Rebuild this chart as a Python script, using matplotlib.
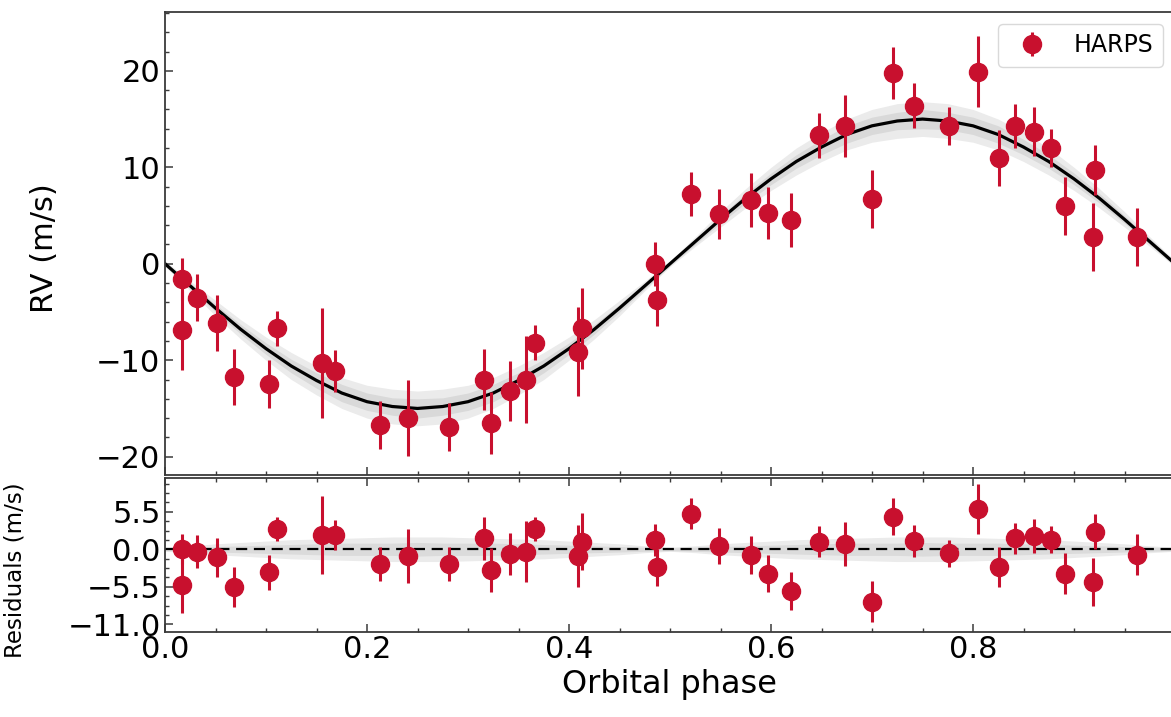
import numpy as np
import matplotlib.pyplot as plt
from matplotlib.ticker import AutoMinorLocator

# HARPS data, folded on the orbital phase
phase = [0.017, 0.017, 0.032, 0.051, 0.068, 0.103, 0.111, 0.155, 0.168, 0.213,
         0.241, 0.281, 0.316, 0.323, 0.342, 0.357, 0.366, 0.409, 0.413, 0.485,
         0.487, 0.521, 0.549, 0.580, 0.597, 0.620, 0.648, 0.673, 0.700, 0.721,
         0.742, 0.776, 0.805, 0.826, 0.842, 0.860, 0.877, 0.891, 0.921, 0.919,
         0.962]
rv = [-1.6, -6.9, -3.5, -6.1, -11.7, -12.5, -6.7, -10.3, -11.1, -16.7,
      -16.0, -16.9, -12.0, -16.5, -13.2, -12.0, -8.2, -9.1, -6.7, 0.0,
      -3.8, 7.2, 5.2, 6.6, 5.3, 4.5, 13.3, 14.3, 6.7, 19.8,
      16.4, 14.3, 19.9, 11.0, 14.3, 13.7, 12.0, 6.0, 9.7, 2.8,
      2.8]
rv_err = [2.2, 4.1, 2.4, 2.9, 2.9, 2.5, 1.8, 5.7, 2.2, 2.5,
          3.9, 2.5, 3.2, 3.2, 3.1, 4.5, 1.8, 4.6, 4.2, 2.3,
          2.7, 2.3, 2.6, 2.8, 2.7, 2.8, 2.3, 3.2, 3.0, 2.7,
          2.3, 2.0, 3.7, 2.9, 2.3, 2.5, 2.0, 3.0, 2.6, 3.5,
          3.0]
resid = [0.0, -5.3, -0.35, -1.2, -5.5, -3.4, 3.0, 2.1, 2.1, -2.15,
         -1.0, -2.2, 1.6, -3.0, -0.7, -0.35, 3.0, -1.0, 1.1, 1.35,
         -2.65, 5.2, 0.5, -0.8, -3.6, -6.1, 1.1, 0.8, -7.7, 4.8,
         1.2, -0.6, 5.9, -2.6, 1.6, 2.0, 1.4, -3.6, 2.6, -4.75,
         -0.8]

# best-fit model, every 0.025 in phase
model_phase = [i * 0.025 for i in range(41)]
model_rv = [0.0, -2.3, -4.6, -6.8, -8.8, -10.6, -12.1, -13.4, -14.3, -14.8,
            -15.0, -14.8, -14.3, -13.4, -12.1, -10.6, -8.8, -6.8, -4.6, -2.3,
            0.0, 2.3, 4.6, 6.8, 8.8, 10.6, 12.1, 13.4, 14.3, 14.8,
            15.0, 14.8, 14.3, 13.4, 12.1, 10.6, 8.8, 6.8, 4.6, 2.3, 0.0]
# half widths of the two grey bands
band_outer = [0.3, 0.5, 0.8, 1.0, 1.2, 1.4, 1.5, 1.6, 1.7, 1.8,
              1.8, 1.8, 1.7, 1.6, 1.5, 1.4, 1.2, 1.0, 0.8, 0.5,
              0.3, 0.5, 0.8, 1.0, 1.2, 1.4, 1.5, 1.6, 1.7, 1.8,
              1.8, 1.8, 1.7, 1.6, 1.5, 1.4, 1.2, 1.0, 0.8, 0.5, 0.3]
band_inner = [0.2, 0.3, 0.4, 0.5, 0.6, 0.7, 0.8, 0.9, 0.9, 0.9,
              1.0, 0.9, 0.9, 0.9, 0.8, 0.7, 0.6, 0.5, 0.4, 0.3,
              0.2, 0.3, 0.4, 0.5, 0.6, 0.7, 0.8, 0.9, 0.9, 0.9,
              1.0, 0.9, 0.9, 0.9, 0.8, 0.7, 0.6, 0.5, 0.4, 0.3, 0.2]

xticks = [0.0, 0.2, 0.4, 0.6, 0.8]
res_ticks = [-11.0, -5.5, 0.0, 5.5]

red = '#c8102e'
spine_col = '#3a3a3a'

mp = np.array(model_phase)
mr = np.array(model_rv)
bo = np.array(band_outer)
bi = np.array(band_inner)

fig = plt.figure(figsize=(11.71, 7.17), dpi=100)
W, H = 1171, 717
ax = fig.add_axes([165 / W, 1 - 475 / H, 1010 / W, 463 / H])
axr = fig.add_axes([165 / W, 1 - 632 / H, 1010 / W, 154 / H])

# main panel
ax.fill_between(mp, mr - bo, mr + bo, color='0.92', lw=0, zorder=1)
ax.fill_between(mp, mr - bi, mr + bi, color='0.85', lw=0, zorder=1)
ax.plot(mp, mr, color='black', lw=2.3, zorder=2)
ax.errorbar(phase, rv, yerr=rv_err, fmt='o', color=red, ms=13,
            elinewidth=2.2, capsize=0, zorder=3, label='HARPS')
ax.set_xlim(0, 1)
ax.set_ylim(-21.9, 26.1)
ax.set_yticks([-20, -10, 0, 10, 20])
ax.set_xticks(xticks)
ax.tick_params(labelbottom=False)
ax.set_ylabel('RV (m/s)', fontsize=22)
ax.yaxis.set_label_coords(-0.105, 0.49)
ax.legend(loc='upper right', fontsize=17, edgecolor='0.85', framealpha=1)

# residuals
axr.fill_between(mp, -bo, bo, color='0.92', lw=0, zorder=1)
axr.fill_between(mp, -bi, bi, color='0.86', lw=0, zorder=1)
axr.axhline(0, color='black', lw=1.6, ls=(0, (5, 3)), zorder=2)
axr.errorbar(phase, resid, yerr=rv_err, fmt='o', color=red, ms=13,
             elinewidth=2.2, capsize=0, zorder=3)
axr.set_xlim(0, 1)
axr.set_ylim(-12.13, 10.45)
axr.set_yticks(res_ticks)
axr.set_yticklabels(['\u221211.0', '\u22125.5', '0.0', '5.5'])
axr.set_xticks(xticks)
axr.set_xticklabels(['0.0', '0.2', '0.4', '0.6', '0.8'])
axr.set_xlabel('Orbital phase', fontsize=23)
axr.set_ylabel('Residuals (m/s)', fontsize=16.5)
axr.yaxis.set_label_coords(-0.137, 0.4)

for a, top in ((ax, False), (axr, True)):
    a.xaxis.set_minor_locator(AutoMinorLocator(4))
    a.tick_params(which='both', direction='in', top=top, right=False,
                  labelsize=22, color=spine_col)
    a.tick_params(which='major', length=6, width=1.1)
    a.tick_params(which='minor', length=3, width=1.0)
    for s in a.spines.values():
        s.set_color(spine_col)
        s.set_linewidth(1.3)
ax.yaxis.set_minor_locator(AutoMinorLocator(5))
axr.yaxis.set_minor_locator(AutoMinorLocator(4))
axr.tick_params(axis='x', pad=2)
axr.tick_params(axis='y', pad=3)

fig.savefig('out.png', dpi=100)
